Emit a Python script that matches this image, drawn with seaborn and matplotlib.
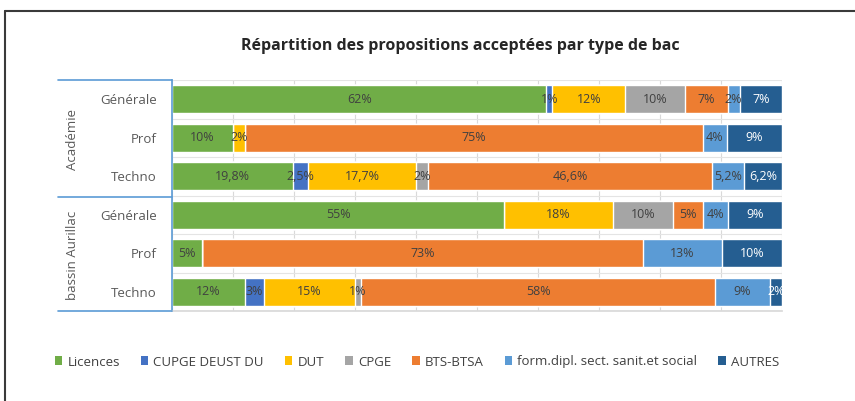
import numpy as np
import pandas as pd
import matplotlib
matplotlib.use("Agg")
import matplotlib.pyplot as plt
from matplotlib.lines import Line2D
from matplotlib.patches import Patch
import seaborn as sns

# data (percent)
groupes = ["Académie", "Académie", "Académie", "bassin Aurillac", "bassin Aurillac", "bassin Aurillac"]
bacs = ["Générale", "Prof", "Techno", "Générale", "Prof", "Techno"]
series = ["Licences", "CUPGE DEUST DU", "DUT", "CPGE", "BTS-BTSA",
          "form.dipl. sect. sanit.et social", "AUTRES"]
licences = [62, 10, 19.8, 55, 5, 12]
cupge = [1, 0, 2.5, 0, 0, 3]
dut = [12, 2, 17.7, 18, 0, 15]
cpge = [10, 0, 2, 10, 0, 1]
bts = [7, 75, 46.6, 5, 73, 58]
form_sanit = [2, 4, 5.2, 4, 13, 9]
autres = [7, 9, 6.2, 9, 10, 2]
couleurs = ["#70AD47", "#4472C4", "#FFC000", "#A5A5A5", "#ED7D31", "#5B9BD5", "#255E91"]

sns.set_theme(style="white")
plt.rcParams['font.family'] = ['Open Sans', 'DejaVu Sans']

vals = np.array([licences, cupge, dut, cpge, bts, form_sanit, autres]).T
pct = vals / vals.sum(axis=1, keepdims=True) * 100  # 100% stacked like excel
cum = np.cumsum(pct, axis=1)
rows = [f"{g}|{b}" for g, b in zip(groupes, bacs)]

fig = plt.figure(figsize=(8.55, 4.01), dpi=100)
ax = fig.add_axes([172/855, 1 - 311/401, 610/855, 231/401])

for j in range(len(series) - 1, -1, -1):
    df = pd.DataFrame({"row": rows, "cum": cum[:, j]})
    sns.barplot(data=df, x="cum", y="row", color=couleurs[j], orient="h",
                width=0.73, saturation=1, ax=ax, order=rows)

def fmt(v):
    if float(v).is_integer():
        return f"{int(v)}%"
    return f"{v:.1f}".replace(".", ",") + "%"

for i in range(len(rows)):
    for j in range(len(series)):
        if vals[i, j] == 0:
            continue
        x = cum[i, j] - pct[i, j] / 2
        col = "white" if j == len(series) - 1 else "#404040"
        ax.text(x, i, fmt(vals[i, j]), ha="center", va="center",
                fontsize=9, color=col)

ax.set_xlim(0, 100)
ax.set_ylim(5.5, -0.5)
ax.set_xticks(np.arange(0, 101, 10))
ax.set_xticklabels([])
ax.set_yticks(range(len(rows)))
ax.set_yticklabels(bacs, fontsize=9.5, color="#595959")
ax.set_yticks(np.arange(-0.5, 6, 1), minor=True)
ax.tick_params(axis="y", length=0, pad=11)
ax.tick_params(axis="x", length=0)
ax.grid(axis="x", color="#D9D9D9", lw=0.8)
ax.grid(axis="y", which="minor", color="#E4E4E4", lw=0.8)
ax.set_axisbelow(True)
ax.set_xlabel("")
ax.set_ylabel("")
for s in ["top", "right"]:
    ax.spines[s].set_visible(False)
ax.spines["bottom"].set_color("#D9D9D9")
ax.spines["left"].set_color("#5B9BD5")
ax.spines["left"].set_linewidth(1.2)

# group axis lines and labels
for yy in [80, 197, 311]:
    fig.add_artist(Line2D([58/855, 172/855], [1 - yy/401, 1 - yy/401],
                          color="#5B9BD5", lw=1.2))
fig.text(72/855, 1 - 139/401, "Académie", rotation=90, ha="center", va="center",
         fontsize=9.5, color="#595959")
fig.text(72/855, 1 - 255/401, "bassin Aurillac", rotation=90, ha="center", va="center",
         fontsize=9.5, color="#595959")

fig.text(460/855, 1 - 46/401, "Répartition des propositions acceptées par type de bac",
         ha="center", va="center", fontsize=11.5, fontweight="bold", color="#262626")

handles = [Patch(facecolor=c, edgecolor="none") for c in couleurs]
fig.legend(handles, series, loc="center", bbox_to_anchor=(417/855, 1 - 362/401),
           ncol=7, frameon=False, fontsize=9.5, handlelength=0.55, handleheight=0.65,
           handletextpad=0.4, columnspacing=1.6, labelcolor="#404040")

# frame of the picture (top and left only visible)
fig.add_artist(Line2D([5/855, 1], [1 - 11/401, 1 - 11/401], color="#3A3A3A", lw=1.5))
fig.add_artist(Line2D([5/855, 5/855], [0, 1 - 11/401], color="#3A3A3A", lw=1.5))

fig.savefig("out.png", dpi=100)
